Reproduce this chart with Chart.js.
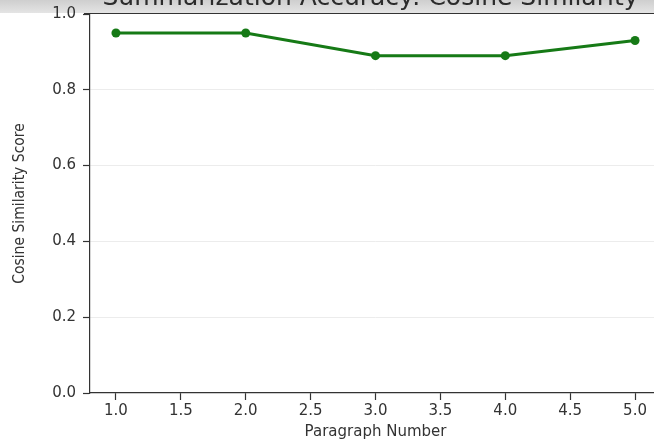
<!DOCTYPE html>
<html>
<head>
<meta charset="utf-8">
<script src="https://cdn.jsdelivr.net/npm/chart.js@4/dist/chart.umd.min.js"></script>
<style>
  html, body { margin: 0; padding: 0; background: #fff; overflow: hidden; }
  #wrap { position: relative; width: 654px; height: 441px; overflow: hidden; }
  #scoreChart { position: absolute; left: 0; top: -20px; }
</style>
</head>
<body>
<div id="wrap"><canvas id="scoreChart" width="672" height="461"></canvas></div>
<script>
'use strict';

// data
const paragraphs = [1, 2, 3, 4, 5];
const scores = [0.95, 0.95, 0.89, 0.89, 0.93];
const xTicks = [1.0, 1.5, 2.0, 2.5, 3.0, 3.5, 4.0, 4.5, 5.0];
const chartTitle = 'Summarization Accuracy: Cosine Similarity';

const LINE_GREEN = '#167a16';
const INK = '#333333';

// cropped title band + top spine
const topBand = {
  id: 'topBand',
  beforeDraw(chart) {
    const { ctx, chartArea } = chart;
    ctx.save();
    const g = ctx.createLinearGradient(0, 0, 0, chartArea.top);
    g.addColorStop(0, '#a9a9a9');
    g.addColorStop(0.6, '#cfcfcf');
    g.addColorStop(1, '#e6e6e6');
    ctx.fillStyle = g;
    ctx.fillRect(0, 0, chart.width, chartArea.top - 1);
    ctx.fillStyle = '#2b2b2b';
    ctx.font = '25px "DejaVu Sans"';
    ctx.textAlign = 'center';
    ctx.textBaseline = 'alphabetic';
    ctx.fillText(chartTitle, (chartArea.left + chartArea.right) / 2 - 5, 25);
    ctx.strokeStyle = '#333';
    ctx.lineWidth = 1.2;
    ctx.beginPath();
    ctx.moveTo(chartArea.left - 6, chartArea.top - 0.5);
    ctx.lineTo(chart.width, chartArea.top - 0.5);
    ctx.stroke();
    ctx.restore();
  },
};

new Chart(document.getElementById('scoreChart'), {
  type: 'line',
  data: {
    datasets: [{
      label: 'Cosine Similarity',
      data: paragraphs.map((p, i) => ({ x: p, y: scores[i] })),
      borderColor: LINE_GREEN,
      backgroundColor: LINE_GREEN,
      borderWidth: 3,
      pointRadius: 4.5,
      pointHoverRadius: 4.5,
      pointBorderWidth: 0,
      tension: 0,
    }],
  },
  options: {
    responsive: false,
    animation: false,
    layout: { padding: { top: 34, right: 11, left: 0, bottom: 0 } },
    plugins: {
      legend: { display: false },
      tooltip: { enabled: false },
      title: { display: false },
    },
    scales: {
      x: {
        type: 'linear',
        min: 0.8,
        max: 5.2,
        afterBuildTicks: axis => { axis.ticks = xTicks.map(v => ({ value: v })); },
        afterFit: axis => { axis.height = 48; },
        grid: { drawOnChartArea: false, tickLength: 7, tickColor: INK, tickWidth: 1.2 },
        border: { display: true, color: INK, width: 1.2 },
        ticks: {
          color: INK,
          font: { family: 'DejaVu Sans', size: 15 },
          padding: 2,
          maxRotation: 0,
          callback: v => v.toFixed(1),
        },
        title: {
          display: true,
          text: 'Paragraph Number',
          color: INK,
          font: { family: 'DejaVu Sans', size: 15 },
          padding: { top: 0, bottom: 0 },
        },
      },
      y: {
        min: 0,
        max: 1,
        afterFit: axis => { axis.width = 90; },
        grid: {
          color: ctx => (ctx.tick && ctx.tick.value > 0 && ctx.tick.value < 1) ? '#ececec' : 'transparent',
          tickLength: 7,
          tickColor: INK,
          tickWidth: 1.2,
        },
        border: { display: true, color: INK, width: 1.2 },
        ticks: {
          stepSize: 0.2,
          color: INK,
          font: { family: 'DejaVu Sans', size: 15 },
          padding: 7,
          callback: v => v.toFixed(1),
        },
        title: {
          display: true,
          text: 'Cosine Similarity Score',
          color: INK,
          font: { family: 'DejaVu Sans Condensed', size: 15.5 },
          padding: { top: 11, bottom: 0 },
        },
      },
    },
  },
  plugins: [topBand],
});
</script>
</body>
</html>
